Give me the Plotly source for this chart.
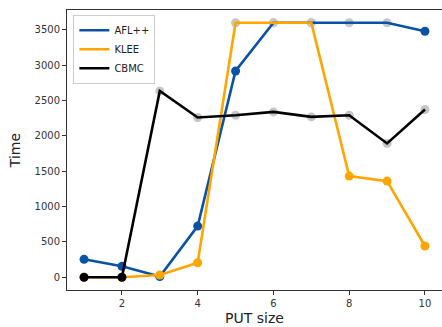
import plotly.graph_objects as go

put_size = [1, 2, 3, 4, 5, 6, 7, 8, 9, 10]
afl_time = [254, 155, 10, 724, 2918, 3600, 3600, 3600, 3600, 3479]
klee_time = [0, 0, 32, 206, 3600, 3600, 3600, 1431, 1360, 442]
cbmc_time = [0, 0, 2636, 2260, 2292, 2339, 2268, 2292, 1893, 2373]
# points marked gray (e.g. timeout / failed)
afl_gray = [6, 7, 8, 9]
klee_gray = [5, 6, 7]
cbmc_gray = [3, 4, 5, 6, 7, 8, 9, 10]

series = [
    ("AFL++", afl_time, afl_gray, "#0a52a5"),
    ("KLEE", klee_time, klee_gray, "#ffa500"),
    ("CBMC", cbmc_time, cbmc_gray, "#000000"),
]

fig = go.Figure()
for name, vals, gray, col in series:
    gx = [x for x in put_size if x in gray]
    gy = [v for x, v in zip(put_size, vals) if x in gray]
    fig.add_trace(go.Scatter(
        x=gx, y=gy, mode="markers", showlegend=False, hoverinfo="skip",
        marker=dict(color="#c6c6c6", size=9),
    ))
for name, vals, gray, col in series:
    mcols = ["rgba(0,0,0,0)" if x in gray else col for x in put_size]
    fig.add_trace(go.Scatter(
        x=put_size, y=vals, mode="lines+markers", name=name, showlegend=False,
        line=dict(color=col, width=2.6),
        marker=dict(color=mcols, size=9),
    ))
for name, vals, gray, col in series:
    fig.add_trace(go.Scatter(
        x=[None], y=[None], mode="lines", name=name,
        line=dict(color=col, width=2.6),
    ))

axis_common = dict(
    showline=True, linecolor="#333333", linewidth=1, mirror=True,
    ticks="outside", ticklen=4, tickcolor="#333333",
    tickfont=dict(family="DejaVu Sans", size=10, color="#333333"),
    showgrid=False, zeroline=False, automargin=False,
)
fig.update_layout(
    width=442, height=327,
    margin=dict(l=67, r=0, t=10, b=37),
    plot_bgcolor="white", paper_bgcolor="white",
    xaxis=dict(range=[0.55, 10.45], tickvals=[2, 4, 6, 8, 10],
               title=dict(text="PUT size", standoff=5,
                          font=dict(family="DejaVu Sans", size=14, color="#222222")),
               **axis_common),
    yaxis=dict(range=[-180, 3780], tickvals=[0, 500, 1000, 1500, 2000, 2500, 3000, 3500],
               title=dict(text="Time", standoff=10,
                          font=dict(family="DejaVu Sans", size=14, color="#222222")),
               **axis_common),
    legend=dict(x=0.017, y=0.983, xanchor="left", yanchor="top",
                bgcolor="rgba(255,255,255,0.9)", bordercolor="#cccccc", borderwidth=1,
                font=dict(family="DejaVu Sans", size=10, color="#222222"),
                tracegroupgap=0, itemwidth=30),
    showlegend=True,
)
fig.write_html("out.html", config={"displayModeBar": False},
               post_script="document.body.style.margin='0';")
